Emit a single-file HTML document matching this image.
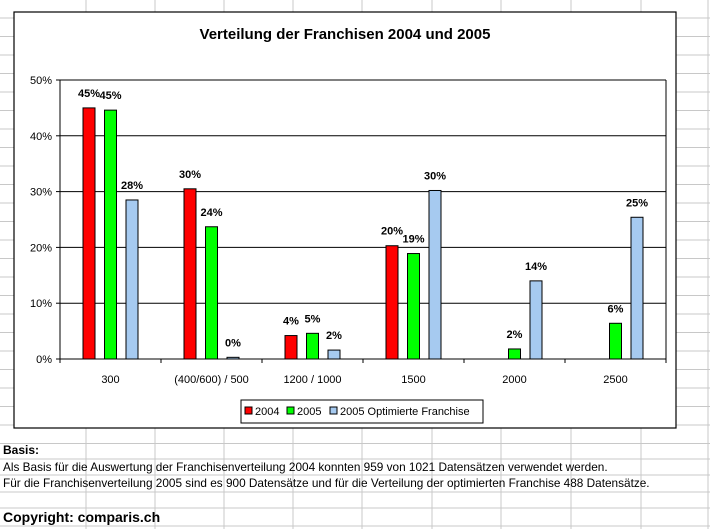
<!DOCTYPE html>
<html><head><meta charset="utf-8"><style>
body{margin:0;width:710px;height:529px;overflow:hidden;background:#fff;font-family:"Liberation Sans",Arial,sans-serif;position:relative}
svg{position:absolute;left:0;top:0}
.t{position:absolute;left:3px;font-size:11.8px;color:#000;white-space:nowrap}
</style></head><body>
<svg id="s" width="710" height="529"></svg>
<div class="t" style="top:443px;font-weight:bold;font-size:12px">Basis:</div>
<div class="t" style="top:460px">Als Basis für die Auswertung der Franchisenverteilung 2004 konnten 959 von 1021 Datensätzen verwendet werden.</div>
<div class="t" style="top:476px">Für die Franchisenverteilung 2005 sind es 900 Datensätze und für die Verteilung der optimierten Franchise 488 Datensätze.</div>
<div class="t" style="top:509px;font-weight:bold;font-size:14px">Copyright: comparis.ch</div>
<script>
const categories=["300","(400/600) / 500","1200 / 1000","1500","2000","2500"];
const v2004=[45,30.5,4.2,20.3,0,0];
const v2005=[44.6,23.7,4.6,18.9,1.8,6.4];
const vOpt=[28.5,0.3,1.6,30.2,14,25.4];
const l2004=["45%","30%","4%","20%",null,null];
const l2005=["45%","24%","5%","19%","2%","6%"];
const lOpt=["28%","0%","2%","30%","14%","25%"];
const yTicks=[0,10,20,30,40,50];
const seriesNames=["2004","2005","2005 Optimierte Franchise"];
const colors=["#ff0000","#00ff00","#a6caf0"];
const NS="http://www.w3.org/2000/svg";
const s=document.getElementById('s');
function mk(tag,attrs,parent){const e=document.createElementNS(NS,tag);for(const k in attrs)e.setAttribute(k,attrs[k]);(parent||s).appendChild(e);return e;}
const g=mk('g',{});


const cols=[86,155,224,293,362,432,501,571,641,708];
cols.forEach(x=>mk('line',{x1:x,y1:0,x2:x,y2:529,stroke:'#c8c8c8','stroke-width':1},g));
for(let y=18;y<444;y+=18.5)mk('line',{x1:0,y1:y,x2:710,y2:y,stroke:'#c8c8c8','stroke-width':1},g);
[459,475,492,508,526].forEach(y=>mk('line',{x1:0,y1:y,x2:710,y2:y,stroke:'#c8c8c8','stroke-width':1},g));
const box=mk('rect',{x:14,y:12,width:662,height:416,fill:'#fff',stroke:'#000','stroke-width':1.2});


const title=mk('text',{x:345,y:39,'text-anchor':'middle','font-size':15,'font-weight':'bold','font-family':'Liberation Sans,Arial,sans-serif'});
title.textContent='Verteilung der Franchisen 2004 und 2005';


const X0=60,X1=666,Y0=359,Y50=80;
const yS=v=>Y0-(v/50)*(Y0-Y50);
const cw=(X1-X0)/categories.length;
const xC=i=>X0+cw*(i+0.5);
yTicks.forEach(t=>{
  const y=yS(t);
  if(t>0){const gl=mk('line',{x1:X0,y1:y,x2:X1,y2:y,stroke:'#000','stroke-width':1});
  
  }
  mk('line',{x1:X0-4,y1:y,x2:X0,y2:y,stroke:'#000'});
  const tx=mk('text',{x:X0-8,y:y+4,'text-anchor':'end','font-size':11,'font-family':'Liberation Sans,Arial,sans-serif'});
  tx.textContent=t+'%';
  
  
});
mk('line',{x1:X0,y1:Y50,x2:X0,y2:Y0,stroke:'#000'});
mk('line',{x1:X0,y1:Y0,x2:X1,y2:Y0,stroke:'#000'});
mk('line',{x1:X1,y1:Y50,x2:X1,y2:Y0,stroke:'#000'});
for(let i=0;i<=categories.length;i++)mk('line',{x1:X0+cw*i,y1:Y0,x2:X0+cw*i,y2:Y0+4,stroke:'#000'});
categories.forEach((c,i)=>{
  const tx=mk('text',{x:xC(i),y:Y0+24,'text-anchor':'middle','font-size':11,'font-family':'Liberation Sans,Arial,sans-serif'});
  tx.textContent=c;
  
  
});
const series=[v2004,v2005,vOpt],labels=[l2004,l2005,lOpt],offs=[-21.5,0,21.5],bw=12;
series.forEach((arr,si)=>arr.forEach((v,i)=>{
  const x=xC(i)+offs[si]-bw/2,y=yS(v);
  if(v>0){const r=mk('rect',{x:x,y:y,width:bw,height:Y0-y,fill:colors[si],stroke:'#000','stroke-width':1});
  
  }
  const lb=labels[si][i];
  if(lb){const tx=mk('text',{x:x+bw/2,y:y-11,'text-anchor':'middle','font-size':11,'font-weight':'bold','font-family':'Liberation Sans,Arial,sans-serif'});
  tx.textContent=lb;
  
  }
}));
const lg=mk('g',{});


mk('rect',{x:241,y:400,width:242,height:23,fill:'#fff',stroke:'#000'},lg);
let lx=245;
seriesNames.forEach((n,i)=>{
  mk('rect',{x:lx,y:407,width:7,height:7,fill:colors[i],stroke:'#000'},lg);
  const tx=mk('text',{x:lx+10,y:415,'font-size':11,'font-family':'Liberation Sans,Arial,sans-serif'},lg);
  tx.textContent=n;
  
  
  lx+=[42,43,0][i];
});
</script>
</body></html>
